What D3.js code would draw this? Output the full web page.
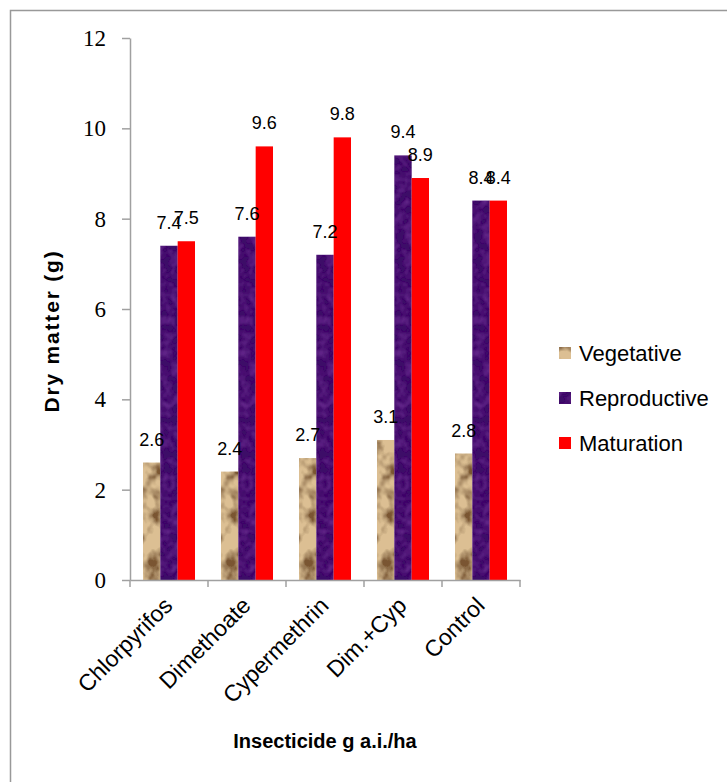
<!DOCTYPE html>
<html>
<head>
<meta charset="utf-8">
<script src="https://cdn.jsdelivr.net/npm/d3@7"></script>
<style>
  body { margin: 0; background: #fff; }
  svg { display: block; }
</style>
</head>
<body>
<svg id="chart" width="727" height="782"></svg>
<script>
// chart data
let categories = ["Chlorpyrifos", "Dimethoate", "Cypermethrin", "Dim.+Cyp", "Control"];
let seriesNames = ["Vegetative", "Reproductive", "Maturation"];
let vegetative = [2.6, 2.4, 2.7, 3.1, 2.8];
let reproductive = [7.4, 7.6, 7.2, 9.4, 8.4];
let maturation = [7.5, 9.6, 9.8, 8.9, 8.4];
let yTicks = [0, 2, 4, 6, 8, 10, 12];

let seriesValues = [vegetative, reproductive, maturation];
let fills = ["#dcbf93", "#3c0e68", "#ff0000"];
let textures = ["url(#sandNoise)", "url(#purpleNoise)", null];

let svg = d3.select("#chart");
let axisColor = "#a0a0a0";
let sansFont = "'Liberation Sans', Arial, sans-serif";
let serifFont = "'Liberation Serif', 'Times New Roman', serif";

// frame of the chart area
svg.append("rect")
    .attr("x", 10.5).attr("y", 10.5)
    .attr("width", 800).attr("height", 800)
    .attr("fill", "none")
    .attr("stroke", "#999")
    .attr("stroke-width", 1.5);

// textures for the first two series (filters on each bar)
let defs = svg.append("defs");

let sandFilter = defs.append("filter").attr("id", "sandNoise")
    .attr("x", 0).attr("y", 0).attr("width", 1).attr("height", 1);
sandFilter.append("feTurbulence")
    .attr("type", "fractalNoise")
    .attr("baseFrequency", "0.06 0.05")
    .attr("numOctaves", 3)
    .attr("seed", 7)
    .attr("result", "noise");
sandFilter.append("feColorMatrix")
    .attr("in", "noise")
    .attr("type", "matrix")
    .attr("values", "0 0 0 0 0  0 0 0 0 0  0 0 0 0 0  -3.2 0 0 0 1.75")
    .attr("result", "shade");
sandFilter.append("feFlood").attr("flood-color", "#7a5530").attr("result", "dark");
sandFilter.append("feComposite").attr("in", "dark").attr("in2", "shade").attr("operator", "in").attr("result", "darkShade");
sandFilter.append("feComposite").attr("in", "darkShade").attr("in2", "SourceGraphic").attr("operator", "in").attr("result", "clipped");
sandFilter.append("feMerge").call(m => {
    m.append("feMergeNode").attr("in", "SourceGraphic");
    m.append("feMergeNode").attr("in", "clipped");
});

let purpleFilter = defs.append("filter").attr("id", "purpleNoise")
    .attr("x", 0).attr("y", 0).attr("width", 1).attr("height", 1);
purpleFilter.append("feTurbulence")
    .attr("type", "fractalNoise")
    .attr("baseFrequency", "0.12")
    .attr("numOctaves", 2)
    .attr("seed", 9)
    .attr("result", "noise");
purpleFilter.append("feColorMatrix")
    .attr("in", "noise")
    .attr("type", "matrix")
    .attr("values", "0 0 0 0 0.3  0 0 0 0 0.06  0 0 0 0 0.52  0.6 0 0 0 -0.22")
    .attr("result", "spots");
purpleFilter.append("feComposite").attr("in", "spots").attr("in2", "SourceGraphic").attr("operator", "in").attr("result", "clipped");
purpleFilter.append("feMerge").call(m => {
    m.append("feMergeNode").attr("in", "SourceGraphic");
    m.append("feMergeNode").attr("in", "clipped");
});

// scales
let plot = {left: 130, right: 520, top: 38, bottom: 580};

let x = d3.scaleBand()
    .domain(categories)
    .range([plot.left, plot.right])
    .padding(0);
let x1 = d3.scaleBand()
    .domain(seriesNames)
    .range([13, x.bandwidth() - 13]);
let y = d3.scaleLinear()
    .domain([0, 12])
    .range([plot.bottom, plot.top]);

// y axis
let yAxis = svg.append("g")
    .attr("transform", `translate(${plot.left},0)`)
    .call(d3.axisLeft(y).tickValues(yTicks).tickSize(8).tickSizeOuter(0).tickPadding(16));
yAxis.select(".domain").attr("stroke", axisColor).attr("stroke-width", 1.5);
yAxis.selectAll(".tick line").attr("stroke", axisColor).attr("stroke-width", 1.5);
yAxis.selectAll(".tick text")
    .attr("font-family", serifFont)
    .attr("font-size", 23)
    .attr("fill", "#000");

// bars
let groups = svg.append("g")
    .selectAll("g")
    .data(categories)
    .join("g")
    .attr("transform", d => `translate(${x(d)},0)`);

groups.selectAll("rect")
    .data((d, i) => seriesNames.map((s, j) => ({series: s, value: seriesValues[j][i], j: j})))
    .join("rect")
    .attr("x", d => x1(d.series))
    .attr("y", d => y(d.value))
    .attr("width", x1.bandwidth())
    .attr("height", d => y(0) - y(d.value))
    .attr("fill", d => fills[d.j])
    .attr("filter", d => textures[d.j]);

// value labels (overlaps are as in the original)
groups.selectAll("text")
    .data((d, i) => seriesNames.map((s, j) => ({series: s, value: seriesValues[j][i]})))
    .join("text")
    .attr("x", d => x1(d.series) + x1.bandwidth() / 2)
    .attr("y", d => y(d.value) - 17)
    .attr("text-anchor", "middle")
    .attr("font-family", sansFont)
    .attr("font-size", 18)
    .attr("fill", "#000")
    .text(d => d3.format(".1f")(d.value));

// x axis
let xAxis = svg.append("g")
    .attr("transform", `translate(0,${plot.bottom})`)
    .call(d3.axisBottom(x).tickSize(0).tickSizeOuter(0).tickPadding(0));
xAxis.select(".domain").attr("stroke", axisColor).attr("stroke-width", 1.5);
xAxis.selectAll(".tick text")
    .attr("font-family", sansFont)
    .attr("font-size", 23)
    .attr("fill", "#000")
    .attr("text-anchor", "end")
    .attr("dy", 0)
    .attr("transform", "translate(5,27) rotate(-45)");

let boundaries = categories.map(c => x(c)).concat([plot.right]);
xAxis.selectAll(".band-tick")
    .data(boundaries)
    .join("line")
    .attr("class", "band-tick")
    .attr("x1", d => d).attr("x2", d => d)
    .attr("y1", 0).attr("y2", 7)
    .attr("stroke", axisColor)
    .attr("stroke-width", 1.5);

// axis titles
svg.append("text")
    .attr("transform", "translate(59,331) rotate(-90)")
    .attr("text-anchor", "middle")
    .attr("font-family", sansFont)
    .attr("font-weight", "bold")
    .attr("font-size", 21)
    .attr("letter-spacing", 1.8)
    .attr("fill", "#000")
    .text("Dry matter (g)");

svg.append("text")
    .attr("x", 325)
    .attr("y", 748)
    .attr("text-anchor", "middle")
    .attr("font-family", sansFont)
    .attr("font-weight", "bold")
    .attr("font-size", 20)
    .attr("fill", "#000")
    .text("Insecticide g a.i./ha");

// legend
let legend = svg.append("g")
    .attr("transform", "translate(559,353)")
    .selectAll("g")
    .data(seriesNames)
    .join("g")
    .attr("transform", (d, i) => `translate(0,${i * 45})`);

legend.append("rect")
    .attr("x", 0).attr("y", -6)
    .attr("width", 12).attr("height", 12)
    .attr("fill", (d, i) => fills[i])
    .attr("filter", (d, i) => textures[i]);

legend.append("text")
    .attr("x", 20)
    .attr("y", 8)
    .attr("font-family", sansFont)
    .attr("font-size", 22)
    .attr("fill", "#000")
    .text(d => d);
</script>
</body>
</html>
